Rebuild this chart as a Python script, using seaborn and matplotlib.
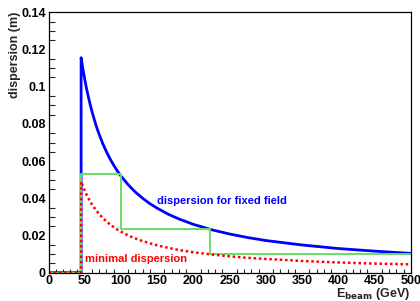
import matplotlib
matplotlib.use("Agg")
import matplotlib.pyplot as plt
import seaborn as sns
import pandas as pd
from matplotlib.ticker import MultipleLocator

# ---- data ----
fixed_E = [0, 45, 45, 47, 50, 52.5, 55, 57.5, 60, 62.5, 65, 67.5, 70, 75, 80, 85,
           90, 95, 100, 110, 120, 130, 140, 150, 165, 180, 200, 225, 250, 275,
           300, 350, 400, 450, 500]
fixed_D = [0, 0, 0.1156, 0.1107, 0.1040, 0.0990, 0.0946, 0.0904, 0.0867, 0.0832,
           0.0800, 0.0770, 0.0743, 0.0693, 0.0650, 0.0612, 0.0578, 0.0547,
           0.0520, 0.0473, 0.0433, 0.0400, 0.0371, 0.0347, 0.0315, 0.0289,
           0.0260, 0.0231, 0.0208, 0.0189, 0.0173, 0.0149, 0.0130, 0.0116,
           0.0104]

min_E = [0, 45, 45, 47, 50, 52.5, 55, 57.5, 60, 65, 70, 75, 80, 85, 90, 95, 100,
         110, 120, 130, 140, 150, 165, 180, 200, 225, 250, 275, 300, 350, 400,
         450, 500]
min_D = [0, 0, 0.0490, 0.0469, 0.0441, 0.0420, 0.0401, 0.0383, 0.0367, 0.0339,
         0.0315, 0.0294, 0.0276, 0.0259, 0.0245, 0.0232, 0.0221, 0.0200,
         0.0184, 0.0170, 0.0158, 0.0147, 0.0134, 0.0122, 0.0110, 0.0098,
         0.0088, 0.0080, 0.0074, 0.0063, 0.0055, 0.0049, 0.0045]

step_E = [0, 45, 100, 223, 500]
step_D = [0, 0.0529, 0.0233, 0.0103, 0.0103]

x_ticks = [0, 50, 100, 150, 200, 250, 300, 350, 400, 450, 500]
y_ticks = [0, 0.02, 0.04, 0.06, 0.08, 0.1, 0.12, 0.14]
y_tick_labels = ["0", "0.02", "0.04", "0.06", "0.08", "0.1", "0.12", "0.14"]

sns.set_theme(style="white")
plt.rcParams['font.family'] = ['Liberation Sans', 'DejaVu Sans']
plt.rcParams['font.weight'] = 'bold'

fig = plt.figure(figsize=(4.2, 3.01), dpi=100)
ax = fig.add_axes([0.1155, 0.094, 0.978 - 0.1155, 0.959 - 0.094])

df_fixed = pd.DataFrame({"E": fixed_E, "D": fixed_D})
df_min = pd.DataFrame({"E": min_E, "D": min_D})
df_step = pd.DataFrame({"E": step_E, "D": step_D})

sns.lineplot(data=df_fixed, x="E", y="D", sort=False, estimator=None,
             color="#0000ff", lw=2.0, ax=ax)
sns.lineplot(data=df_step, x="E", y="D", sort=False, estimator=None,
             color="#66dd66", lw=1.4, drawstyle="steps-post", ax=ax)
sns.lineplot(data=df_min, x="E", y="D", sort=False, estimator=None,
             color="#ff0000", lw=1.8, linestyle=(0, (1, 1.1)), ax=ax)

ax.set_xlim(0, 500)
ax.set_ylim(0, 0.14)
ax.set_xticks(x_ticks)
ax.set_xticklabels([str(t) for t in x_ticks])
ax.set_yticks(y_ticks)
ax.set_yticklabels(y_tick_labels)
ax.xaxis.set_minor_locator(MultipleLocator(10))
ax.yaxis.set_minor_locator(MultipleLocator(0.005))

ax.tick_params(axis='x', which='major', direction='in', length=6, width=0.8,
               labelsize=9, pad=2, colors='black')
ax.tick_params(axis='x', which='minor', direction='in', length=3, width=0.8,
               bottom=True)
ax.tick_params(axis='y', which='major', direction='in', length=8, width=0.8,
               labelsize=9, pad=2, colors='black')
ax.tick_params(axis='y', which='minor', direction='in', length=4, width=0.8,
               left=True)
for lab in ax.get_xticklabels() + ax.get_yticklabels():
    lab.set_fontweight('bold')

for s in ax.spines.values():
    s.set_visible(True)
    s.set_color('black')
    s.set_linewidth(0.9)

ax.set_xlabel("")
ax.set_ylabel("")
fig.text(0.036, 0.962, "dispersion (m)", rotation=90, ha='center', va='top',
         fontsize=9, fontweight='bold')
fig.text(0.978, 0.013, r"E$_{\mathbf{beam}}$ (GeV)", ha='right', va='baseline',
         fontsize=9, fontweight='bold')

ax.text(150, 0.0387, "dispersion for fixed field", color="#0000ff",
        fontsize=8, fontweight='bold', va='center', ha='left')
ax.text(50, 0.0074, "minimal dispersion", color="#ff0000",
        fontsize=8, fontweight='bold', va='center', ha='left')

fig.savefig("out.png", dpi=100)
